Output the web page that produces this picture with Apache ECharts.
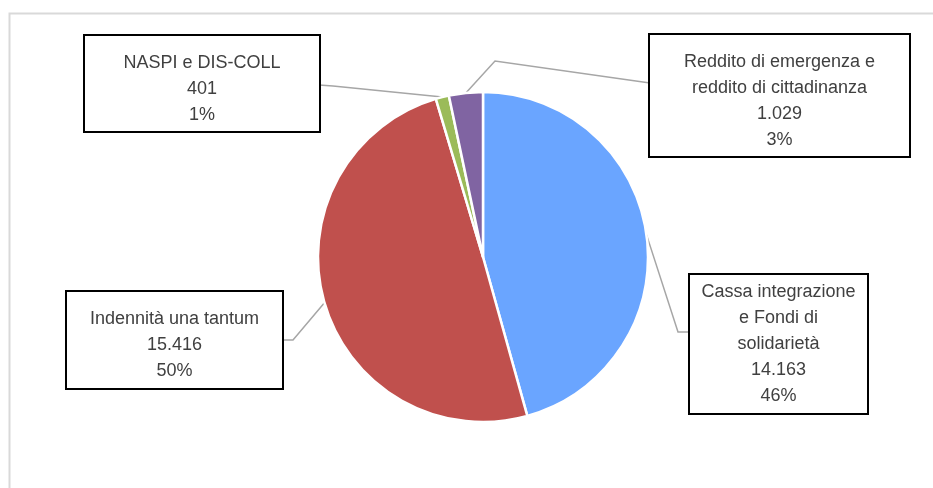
<!DOCTYPE html>
<html><head><meta charset="utf-8">
<script src="https://cdn.jsdelivr.net/npm/echarts@6/dist/echarts.min.js"></script>
<style>html,body{margin:0;padding:0;background:#fff}#c{width:933px;height:488px}</style>
</head><body><div id="c"></div>
<script>
const categories = ['Cassa integrazione\ne Fondi di\nsolidarietà', 'Indennità una tantum', 'NASPI e DIS-COLL', 'Reddito di emergenza e\nreddito di cittadinanza'];
const values = [14163, 15416, 401, 1029];
const colors = ['#6AA5FF', '#C0504D', '#9BBB59', '#8064A2'];

// label box layout (left, top, width, padding, where the leader line meets the box, bend offset)
const boxes = [
  {left: 690, top: 275, w: 177, pad: [4, 0, 4, 0], edge: 'left', edgeDy: 57, bend: [-12, 0]},
  {left: 67,  top: 292, w: 215, pad: [14, 0, 4, 0], edge: 'right', edgeDy: 48, bend: [11, 0]},
  {left: 85,  top: 36,  w: 234, pad: [14, 0, 3, 0], edge: 'right', edgeDy: 49, bend: [14, 1]},
  {left: 650, top: 35,  w: 259, pad: [14, 0, 3, 0], edge: 'left', edgeDy: 48, bend: [-155, -22]}
];

function fmtIt(n) {
  return String(n).replace(/\B(?=(\d{3})+(?!\d))/g, '.');
}

const chart = echarts.init(document.getElementById('c'));
const CX = 483, CY = 257, R = 165;
const total = values.reduce((a, b) => a + b, 0);
function anchorFor(i) {
  let before = 0;
  for (let k = 0; k < i; k++) before += values[k];
  const mid = (before + values[i] / 2) / total * Math.PI * 2; // clockwise from top
  return [CX + R * Math.sin(mid), CY - R * Math.cos(mid)];
}

chart.setOption({
  backgroundColor: '#fff',
  animation: false,
  graphic: [{
    type: 'rect', left: 7, top: 11, silent: true,
    shape: {width: 960, height: 520},
    style: {fill: 'none', stroke: '#d9d9d9', lineWidth: 2}
  }],
  series: [{
    type: 'pie',
    center: [CX, CY],
    radius: R,
    startAngle: 90,
    clockwise: true,
    avoidLabelOverlap: false,
    itemStyle: {borderColor: '#fff', borderWidth: 2.5},
    data: values.map((v, i) => ({
      value: v,
      name: categories[i],
      itemStyle: {color: colors[i]},
      label: {width: boxes[i].w, padding: boxes[i].pad}
    })),
    label: {
      show: true,
      position: 'outside',
      overflow: 'none',
      fontFamily: 'Liberation Sans',
      fontSize: 18,
      lineHeight: 26,
      color: '#404040',
      backgroundColor: '#fff',
      borderColor: '#000',
      borderWidth: 2,
      align: 'center',
      formatter: p => p.name + '\n' + fmtIt(p.value) + '\n' + Math.round(p.percent) + '%'
    },
    labelLine: {show: true, lineStyle: {color: '#a6a6a6', width: 1.5}},
    labelLayout: function (params) {
      const i = params.dataIndex;
      const b = boxes[i];
      const ex = b.edge === 'left' ? b.left : b.left + b.w;
      const ey = b.top + b.edgeDy;
      const anchor = (params.labelLinePoints && params.labelLinePoints[0]) || anchorFor(i);
      return {
        x: b.left + b.w / 2,
        y: b.top,
        align: 'center',
        verticalAlign: 'top',
        labelLinePoints: [anchor, [ex + b.bend[0], ey + b.bend[1]], [ex, ey]]
      };
    }
  }]
});
</script>
</body></html>
